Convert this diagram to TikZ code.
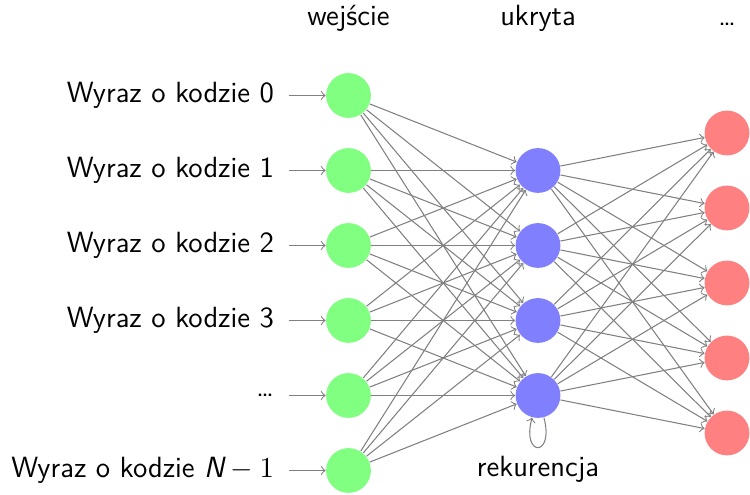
\documentclass[tikz,border=0pt]{standalone}
\begin{document}
\begin{tikzpicture}[x=0.013333cm, y=-0.013333cm, font=\sffamily\fontsize{11.1}{13.3}\selectfont,
  neuron/.style={circle, minimum size=17pt, inner sep=0pt},
  inneuron/.style={neuron, fill=green!50},
  hidneuron/.style={neuron, fill=blue!50},
  outneuron/.style={neuron, fill=red!50},
  edge/.style={->, draw=black!50},
  inlabel/.style={anchor=east, inner xsep=5.5pt, inner ysep=2pt},
  annot/.style={anchor=base, inner sep=0pt}]
\useasboundingbox (0,0) rectangle (750,495);
% input layer
\foreach \i/\t in {1/Wyraz o kodzie 0, 2/Wyraz o kodzie 1, 3/Wyraz o kodzie 2, 4/Wyraz o kodzie 3, 5/\ldots, 6/{Wyraz o kodzie $\textit{N}-1$}} {
  \node[inneuron] (I\i) at (348.5, {95.5+75*(\i-1)}) {};
  \node[inlabel] (L\i) at (289, {95.5+75*(\i-1)}) {\t};
  \draw[edge] (L\i) -- (I\i);
}
% hidden layer
\foreach \j in {1,...,4} {
  \node[hidneuron] (H\j) at (538, {170.5+75*(\j-1)}) {};
}
% output layer
\foreach \k in {1,...,5} {
  \node[outneuron] (O\k) at (727, {133+75*(\k-1)}) {};
}
\foreach \i in {1,...,6} \foreach \j in {1,...,4} \draw[edge] (I\i) -- (H\j);
\foreach \j in {1,...,4} \foreach \k in {1,...,5} \draw[edge] (H\j) -- (O\k);
\draw[edge] (H4) to[loop, out=-75, in=-105, min distance=5.5mm] (H4);
\node[annot] (rek) at (538, 477) {rekurencja};
\node[annot] (tin) at (348.5, 26) {wejście};
\node[annot] (thid) at (538, 26) {ukryta};
\node[annot] (tout) at (727, 26) {\ldots};
\end{tikzpicture}
\end{document}
